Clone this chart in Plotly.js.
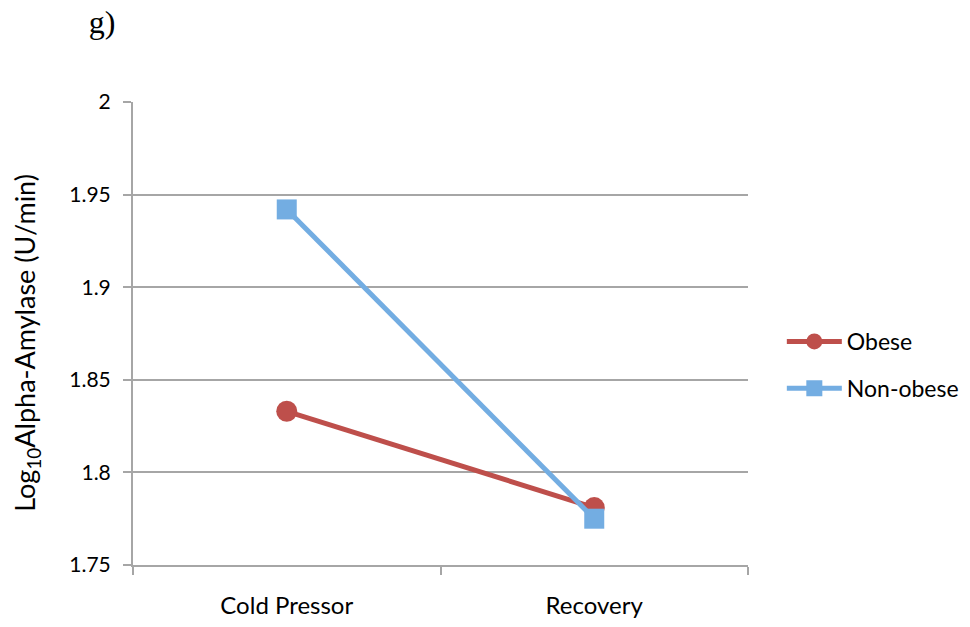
<!DOCTYPE html>
<html>
<head>
<meta charset="utf-8">
<script src="https://cdn.plot.ly/plotly-3.0.1.min.js"></script>
<style>
  html, body { margin: 0; padding: 0; background: #fff; overflow: hidden; }
  #chart { width: 970px; height: 627px; }
</style>
</head>
<body>
<div id="chart"></div>
<script>
// Phases and group means of log10 salivary alpha-amylase
const phases = ["Cold Pressor", "Recovery"];
const obese = [1.833, 1.781];
const nonObese = [1.942, 1.775];
const yTicks = [1.75, 1.8, 1.85, 1.9, 1.95, 2];
const yTickLabels = ["1.75", "1.8", "1.85", "1.9", "1.95", "2"];

const FONT = "Lato, 'Open Sans', sans-serif";
const GRID = "#A6A6A6";

const traces = [
  {
    x: phases, y: obese, name: "Obese", type: "scatter", mode: "lines+markers",
    line: { color: "#BE4F4B", width: 5 },
    marker: { symbol: "circle", size: 21, color: "#BE4F4B" },
    legendgroup: "a"
  },
  {
    x: phases, y: nonObese, name: "Non-obese", type: "scatter", mode: "lines+markers",
    line: { color: "#73ADE2", width: 5 },
    marker: { symbol: "square", size: 20, color: "#73ADE2" },
    legendgroup: "b"
  }
];

const layout = {
  width: 970, height: 627,
  margin: { l: 133, r: 222, t: 102, b: 62, autoexpand: false },
  paper_bgcolor: "#fff", plot_bgcolor: "#fff",
  font: { family: FONT, size: 22, color: "#000" },
  title: {
    text: "g)", xref: "container", yref: "container",
    x: 102 / 970, xanchor: "center", y: 1 - 22 / 627, yanchor: "middle",
    font: { family: "'Liberation Serif', 'DejaVu Serif', serif", size: 32, color: "#000" }
  },
  showlegend: true,
  legend: {
    x: 1.055, xanchor: "left", y: 0.432, yanchor: "middle",
    font: { family: FONT, size: 23, color: "#000" },
    itemwidth: 55, tracegroupgap: 14, traceorder: "grouped",
    bgcolor: "rgba(0,0,0,0)"
  },
  xaxis: {
    type: "category", range: [-0.5, 1.5],
    showgrid: false, zeroline: false,
    showline: true, linecolor: GRID, linewidth: 2,
    ticks: "outside", tickson: "boundaries", ticklen: 8, tickwidth: 2, tickcolor: GRID,
    tickfont: { family: FONT, size: 24, color: "#000" },
    ticklabelstandoff: 18,
    fixedrange: true
  },
  yaxis: {
    range: [1.75, 2],
    tickvals: yTicks, ticktext: yTickLabels,
    showgrid: true, gridcolor: GRID, gridwidth: 2, zeroline: false,
    showline: true, linecolor: GRID, linewidth: 2,
    ticks: "outside", ticklen: 8, tickwidth: 2, tickcolor: GRID,
    tickfont: { family: FONT, size: 21, color: "#000" },
    ticklabelstandoff: 8,
    fixedrange: true
  },
  annotations: [
    {
      text: "Log<sub>10</sub>Alpha-Amylase (U/min)",
      xref: "paper", yref: "paper", x: 0, y: 0.48,
      xanchor: "center", yanchor: "middle", xshift: -106,
      textangle: -90, showarrow: false,
      font: { family: FONT, size: 27, color: "#000" }
    }
  ]
};

Plotly.newPlot("chart", traces, layout, { displayModeBar: false, staticPlot: true });
</script>
</body>
</html>
